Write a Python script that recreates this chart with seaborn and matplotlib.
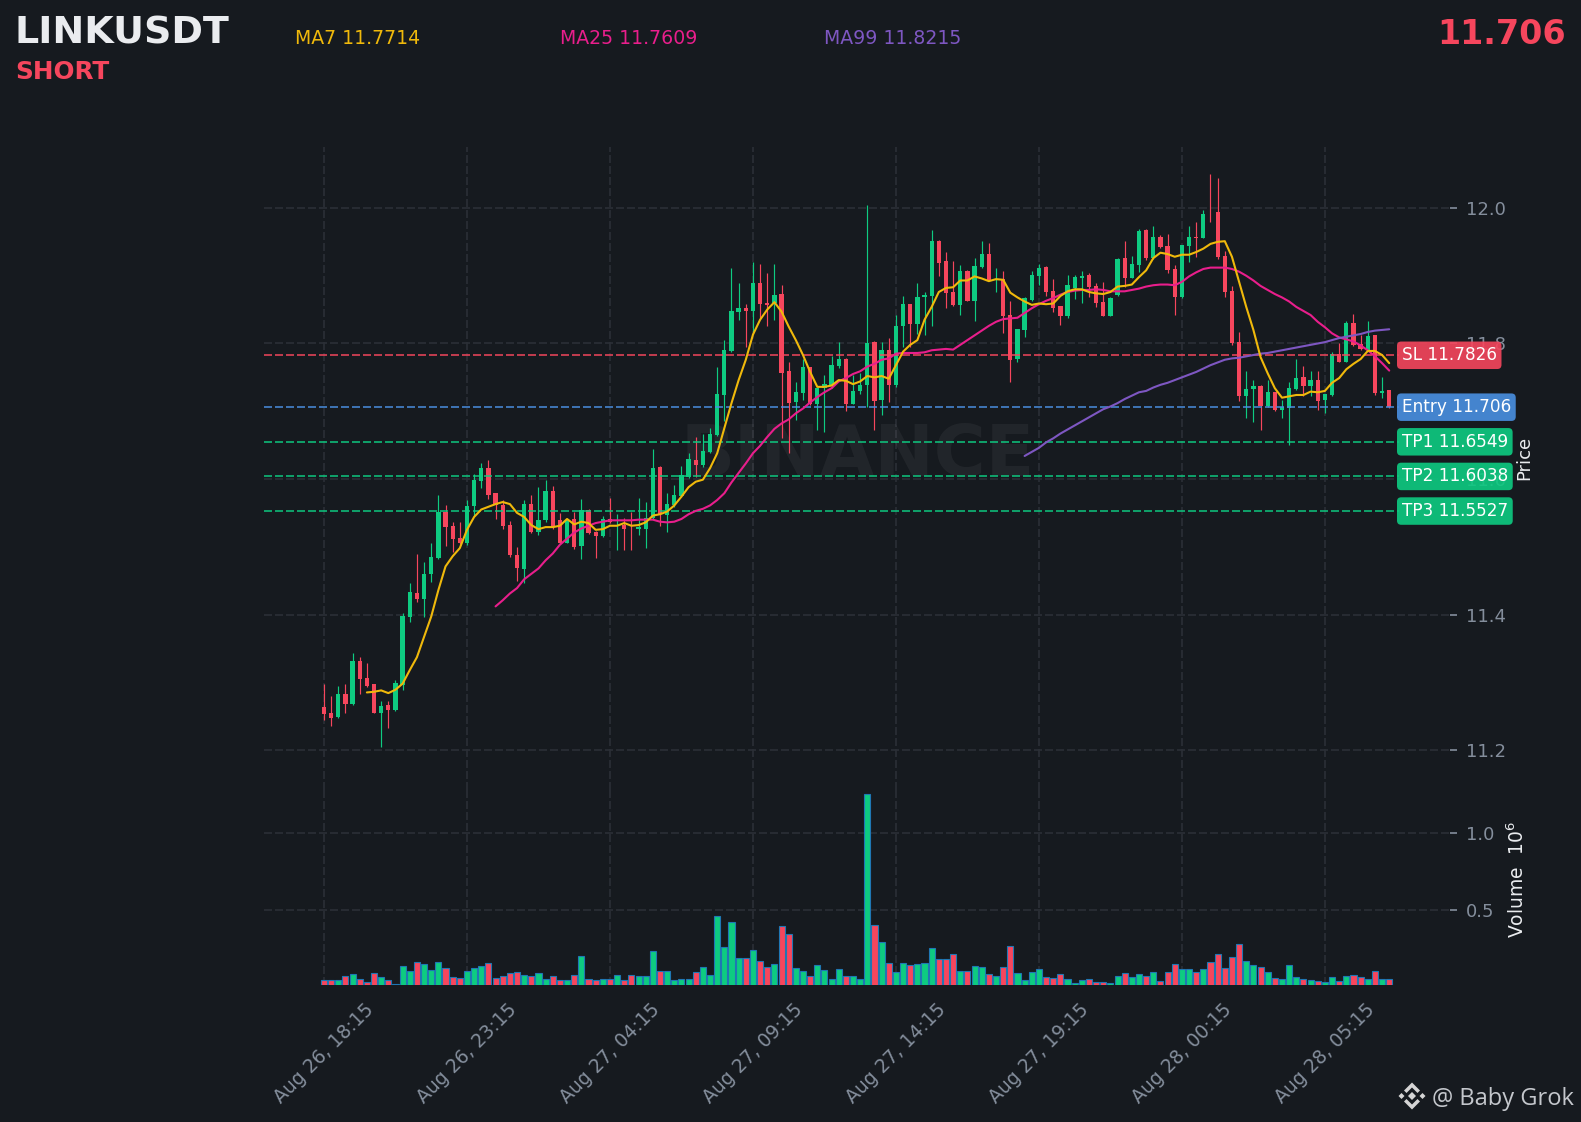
import matplotlib
matplotlib.use("Agg")
import matplotlib.pyplot as plt
from matplotlib.patches import Polygon
import numpy as np
import pandas as pd
import seaborn as sns

# LINKUSDT 15m candles
opens = [11.264, 11.255, 11.249, 11.283, 11.268, 11.331, 11.306, 11.297, 11.255, 11.267,
         11.259, 11.296, 11.397, 11.432, 11.423, 11.460, 11.483, 11.551, 11.531, 11.513,
         11.506, 11.560, 11.597, 11.616, 11.579, 11.562, 11.532, 11.488, 11.467, 11.563,
         11.522, 11.540, 11.582, 11.540, 11.506, 11.541, 11.501, 11.554, 11.522, 11.516,
         11.541, 11.536, 11.532, 11.528, 11.526, 11.526, 11.542, 11.618, 11.547, 11.562,
         11.575, 11.603, 11.628, 11.621, 11.640, 11.665, 11.724, 11.789, 11.847, 11.852,
         11.848, 11.889, 11.860, 11.860, 11.873, 11.759, 11.714, 11.727, 11.765, 11.711,
         11.735, 11.739, 11.767, 11.777, 11.711, 11.730, 11.739, 11.802, 11.717, 11.790,
         11.739, 11.826, 11.858, 11.829, 11.869, 11.870, 11.951, 11.922, 11.876, 11.857,
         11.907, 11.863, 11.913, 11.932, 11.894, 11.895, 11.842, 11.777, 11.820, 11.864,
         11.900, 11.913, 11.877, 11.855, 11.841, 11.882, 11.897, 11.901, 11.885, 11.861,
         11.841, 11.872, 11.926, 11.897, 11.916, 11.968, 11.926, 11.957, 11.944, 11.910,
         11.869, 11.944, 11.957, 11.956, 11.993, 11.994, 11.929, 11.877, 11.802, 11.722,
         11.733, 11.737, 11.708, 11.728, 11.702, 11.705, 11.733, 11.751, 11.737, 11.746,
         11.717, 11.724, 11.784, 11.773, 11.830, 11.799, 11.790, 11.812, 11.727, 11.731]
highs = [11.297, 11.280, 11.295, 11.298, 11.343, 11.338, 11.328, 11.298, 11.273, 11.273,
         11.303, 11.402, 11.446, 11.489, 11.477, 11.506, 11.577, 11.561, 11.536, 11.536,
         11.569, 11.607, 11.624, 11.628, 11.580, 11.569, 11.538, 11.499, 11.569, 11.576,
         11.588, 11.599, 11.589, 11.550, 11.541, 11.551, 11.570, 11.555, 11.523, 11.546,
         11.572, 11.548, 11.542, 11.551, 11.572, 11.566, 11.645, 11.619, 11.579, 11.591,
         11.619, 11.638, 11.662, 11.666, 11.675, 11.765, 11.805, 11.911, 11.889, 11.859,
         11.920, 11.917, 11.904, 11.917, 11.887, 11.772, 11.743, 11.777, 11.766, 11.735,
         11.753, 11.782, 11.802, 11.778, 11.754, 11.757, 12.005, 11.803, 11.802, 11.808,
         11.842, 11.870, 11.859, 11.889, 11.876, 11.967, 11.953, 11.935, 11.922, 11.916,
         11.909, 11.926, 11.952, 11.948, 11.912, 11.907, 11.863, 11.822, 11.868, 11.907,
         11.917, 11.915, 11.895, 11.856, 11.901, 11.901, 11.907, 11.904, 11.889, 11.891,
         11.868, 11.926, 11.951, 11.929, 11.969, 11.969, 11.974, 11.960, 11.962, 11.916,
         11.946, 11.974, 11.979, 11.997, 12.050, 12.044, 11.937, 11.885, 11.817, 11.759,
         11.746, 11.738, 11.746, 11.729, 11.717, 11.743, 11.777, 11.767, 11.759, 11.759,
         11.726, 11.787, 11.801, 11.833, 11.844, 11.812, 11.833, 11.813, 11.750, 11.732]
lows = [11.245, 11.235, 11.248, 11.255, 11.267, 11.283, 11.293, 11.254, 11.205, 11.232,
        11.257, 11.288, 11.389, 11.419, 11.397, 11.448, 11.482, 11.501, 11.493, 11.504,
        11.503, 11.545, 11.587, 11.571, 11.541, 11.526, 11.485, 11.450, 11.446, 11.521,
        11.517, 11.537, 11.526, 11.504, 11.505, 11.496, 11.482, 11.519, 11.484, 11.515,
        11.535, 11.495, 11.495, 11.495, 11.518, 11.498, 11.541, 11.530, 11.522, 11.559,
        11.574, 11.601, 11.603, 11.618, 11.639, 11.664, 11.685, 11.788, 11.834, 11.795,
        11.817, 11.837, 11.826, 11.835, 11.660, 11.638, 11.687, 11.716, 11.709, 11.673,
        11.670, 11.735, 11.764, 11.700, 11.710, 11.725, 11.707, 11.673, 11.694, 11.714,
        11.736, 11.795, 11.795, 11.814, 11.813, 11.826, 11.899, 11.853, 11.855, 11.842,
        11.862, 11.833, 11.912, 11.893, 11.876, 11.815, 11.743, 11.772, 11.810, 11.863,
        11.886, 11.870, 11.846, 11.828, 11.838, 11.866, 11.860, 11.868, 11.854, 11.840,
        11.840, 11.870, 11.884, 11.896, 11.906, 11.923, 11.925, 11.941, 11.904, 11.842,
        11.867, 11.920, 11.927, 11.955, 11.980, 11.925, 11.868, 11.798, 11.715, 11.690,
        11.684, 11.672, 11.707, 11.701, 11.690, 11.650, 11.732, 11.722, 11.722, 11.702,
        11.697, 11.722, 11.772, 11.772, 11.797, 11.791, 11.789, 11.724, 11.720, 11.705]
closes = [11.253, 11.247, 11.283, 11.268, 11.331, 11.305, 11.295, 11.255, 11.265, 11.259,
          11.299, 11.398, 11.433, 11.423, 11.460, 11.485, 11.551, 11.529, 11.511, 11.506,
          11.560, 11.599, 11.616, 11.576, 11.562, 11.531, 11.488, 11.469, 11.563, 11.522,
          11.540, 11.582, 11.529, 11.506, 11.540, 11.500, 11.554, 11.520, 11.516, 11.541,
          11.536, 11.537, 11.526, 11.527, 11.529, 11.542, 11.616, 11.549, 11.563, 11.576,
          11.606, 11.630, 11.621, 11.641, 11.667, 11.726, 11.790, 11.848, 11.852, 11.848,
          11.889, 11.858, 11.857, 11.872, 11.757, 11.712, 11.728, 11.765, 11.711, 11.734,
          11.740, 11.768, 11.777, 11.711, 11.730, 11.739, 11.801, 11.715, 11.790, 11.739,
          11.826, 11.858, 11.829, 11.869, 11.872, 11.951, 11.919, 11.875, 11.857, 11.907,
          11.863, 11.914, 11.932, 11.894, 11.895, 11.841, 11.776, 11.821, 11.867, 11.901,
          11.911, 11.876, 11.852, 11.841, 11.886, 11.898, 11.900, 11.883, 11.860, 11.841,
          11.867, 11.925, 11.897, 11.917, 11.966, 11.926, 11.957, 11.943, 11.909, 11.869,
          11.945, 11.957, 11.956, 11.991, 11.992, 11.928, 11.876, 11.801, 11.722, 11.733,
          11.737, 11.708, 11.728, 11.702, 11.706, 11.734, 11.749, 11.737, 11.746, 11.715,
          11.725, 11.784, 11.773, 11.830, 11.798, 11.792, 11.811, 11.727, 11.730, 11.706]
# volume in units of 10^6
volumes = [.042, .042, .042, .068, .081, .048, .028, .087, .061, .042,
           .012, .133, .100, .159, .146, .107, .159, .120, .061, .055,
           .100, .120, .133, .153, .055, .068, .087, .094, .074, .068,
           .087, .048, .068, .042, .042, .074, .199, .048, .042, .048,
           .048, .074, .042, .074, .068, .068, .232, .100, .100, .042,
           .048, .048, .094, .127, .074, .461, .258, .422, .186, .186,
           .238, .166, .127, .146, .395, .343, .120, .100, .068, .140,
           .107, .048, .114, .068, .068, .048, 1.256, .402, .291, .153,
           .094, .153, .140, .146, .153, .251, .179, .179, .212, .100,
           .100, .133, .127, .081, .068, .127, .264, .087, .042, .094,
           .114, .061, .055, .081, .048, .022, .037, .048, .028, .028,
           .022, .068, .087, .061, .081, .068, .094, .035, .094, .146,
           .114, .114, .094, .114, .159, .212, .120, .192, .277, .166,
           .140, .127, .094, .055, .048, .140, .061, .048, .042, .035,
           .028, .061, .035, .068, .074, .061, .048, .100, .048, .048]

ma7 = [11.285, 11.286, 11.288, 11.284, 11.289, 11.298, 11.318, 11.337, 11.367, 11.397,
       11.436, 11.471, 11.486, 11.498, 11.525, 11.544, 11.555, 11.559, 11.563, 11.566,
       11.563, 11.550, 11.544, 11.532, 11.526, 11.529, 11.529, 11.531, 11.541, 11.533,
       11.537, 11.535, 11.525, 11.526, 11.531, 11.531, 11.535, 11.531, 11.532, 11.536,
       11.546, 11.548, 11.552, 11.561, 11.574, 11.588, 11.596, 11.599, 11.616, 11.638,
       11.675, 11.712, 11.746, 11.776, 11.813, 11.835, 11.850, 11.861, 11.847, 11.825,
       11.805, 11.783, 11.758, 11.736, 11.736, 11.738, 11.746, 11.745, 11.740, 11.744,
       11.752, 11.750, 11.752, 11.748, 11.768, 11.788, 11.798, 11.805, 11.835, 11.854,
       11.876, 11.882, 11.883, 11.893, 11.893, 11.899, 11.896, 11.892, 11.895, 11.894,
       11.875, 11.868, 11.862, 11.857, 11.859, 11.858, 11.859, 11.870, 11.877, 11.880,
       11.880, 11.876, 11.874, 11.873, 11.876, 11.884, 11.885, 11.887, 11.898, 11.908,
       11.926, 11.934, 11.932, 11.928, 11.931, 11.931, 11.935, 11.940, 11.947, 11.950,
       11.951, 11.928, 11.891, 11.854, 11.820, 11.780, 11.756, 11.734, 11.720, 11.722,
       11.724, 11.724, 11.729, 11.728, 11.730, 11.742, 11.749, 11.762, 11.770, 11.777,
       11.789, 11.789, 11.783, 11.771]
ma25 = [11.412, 11.421, 11.431, 11.439, 11.452, 11.460, 11.468, 11.480, 11.490, 11.503,
        11.512, 11.521, 11.527, 11.531, 11.535, 11.537, 11.539, 11.539, 11.539, 11.539,
        11.540, 11.540, 11.540, 11.537, 11.536, 11.537, 11.541, 11.548, 11.553, 11.556,
        11.561, 11.569, 11.579, 11.595, 11.609, 11.623, 11.638, 11.649, 11.662, 11.674,
        11.682, 11.688, 11.697, 11.704, 11.713, 11.721, 11.728, 11.734, 11.744, 11.749,
        11.755, 11.759, 11.766, 11.770, 11.776, 11.778, 11.785, 11.786, 11.786, 11.786,
        11.787, 11.790, 11.791, 11.792, 11.791, 11.798, 11.805, 11.812, 11.819, 11.826,
        11.832, 11.836, 11.837, 11.838, 11.845, 11.852, 11.858, 11.863, 11.867, 11.872,
        11.876, 11.878, 11.879, 11.879, 11.880, 11.879, 11.877, 11.877, 11.877, 11.879,
        11.881, 11.884, 11.886, 11.887, 11.887, 11.886, 11.891, 11.899, 11.905, 11.910,
        11.912, 11.912, 11.912, 11.910, 11.906, 11.900, 11.893, 11.885, 11.879, 11.873,
        11.868, 11.862, 11.854, 11.848, 11.842, 11.832, 11.824, 11.815, 11.809, 11.806,
        11.803, 11.797, 11.790, 11.781, 11.771, 11.760]
ma99 = [11.634, 11.640, 11.646, 11.654, 11.660, 11.667, 11.673, 11.679, 11.685, 11.691,
        11.697, 11.703, 11.707, 11.712, 11.718, 11.723, 11.728, 11.730, 11.735, 11.739,
        11.742, 11.746, 11.750, 11.754, 11.758, 11.763, 11.768, 11.772, 11.776, 11.778,
        11.779, 11.781, 11.783, 11.785, 11.786, 11.788, 11.790, 11.792, 11.794, 11.796,
        11.798, 11.800, 11.802, 11.805, 11.808, 11.810, 11.812, 11.814, 11.817, 11.819,
        11.820, 11.821]

price_ticks = [11.2, 11.4, 11.6, 11.8, 12.0]
volume_ticks = [0.5, 1.0]
date_ticks = [0, 20, 40, 60, 80, 100, 120, 140]
date_labels = ["Aug 26, 18:15", "Aug 26, 23:15", "Aug 27, 04:15", "Aug 27, 09:15",
               "Aug 27, 14:15", "Aug 27, 19:15", "Aug 28, 00:15", "Aug 28, 05:15"]
level_values = [11.7826, 11.706, 11.6549, 11.6038, 11.5527]
level_texts = ["SL 11.7826", "Entry 11.706", "TP1 11.6549", "TP2 11.6038", "TP3 11.5527"]

BG = "#161a1f"
GREEN = "#0ecb81"
RED = "#f6465d"
BLUE = "#4a90e2"
GRID = "#2b2f36"
GRAY = "#848e9c"
level_colors = [RED, BLUE, GREEN, GREEN, GREEN]

sns.set_theme(style="dark", rc={"figure.facecolor": BG, "axes.facecolor": BG, "savefig.facecolor": BG})
plt.rcParams["font.family"] = ["DejaVu Sans"]

W, H = 1581, 1122
fig = plt.figure(figsize=(W / 100, H / 100), dpi=100)


def fx(px):
    return px / W


def fy(px):
    return 1 - px / H


# price pane on top of the volume pane, sharing the grid
left, right, top, mid, bottom = 264, 1450, 147, 790, 985
ax_price = fig.add_axes([fx(left), fy(mid), fx(right - left), (mid - top) / H])
ax_vol = fig.add_axes([fx(left), fy(bottom), fx(right - left), (bottom - mid) / H], sharex=ax_price)

df = pd.DataFrame({"i": range(len(opens)), "open": opens, "high": highs, "low": lows,
                   "close": closes, "volume": volumes})
df["side"] = np.where(df["close"] >= df["open"], "up", "down")
palette = {"up": GREEN, "down": RED}
colors = df["side"].map(palette)

ax_price.text(74.7, 11.633, "BINANCE", color="#ffffff", alpha=0.05, fontsize=51, fontweight="bold",
              ha="center", va="center", zorder=1)

ax_price.vlines(df["i"], df["low"], df["high"], colors=colors, linewidth=0.85, zorder=3)
ax_price.bar(df["i"], (df["close"] - df["open"]).abs().clip(lower=0.0012),
             bottom=df[["open", "close"]].min(axis=1), width=0.6, color=colors, linewidth=0, zorder=3)

dash = (0, (4.8, 1.8))
for value, col in zip(level_values, level_colors):
    ax_price.hlines(value, -8.39, 150.3, colors=col, linewidth=1.2, linestyles=[dash], alpha=0.9, zorder=4)

sns.lineplot(x=range(6, 150), y=ma7, color="#f0b90b", linewidth=1.5, ax=ax_price, zorder=6)
sns.lineplot(x=range(24, 150), y=ma25, color="#e91e8c", linewidth=1.5, ax=ax_price, zorder=5)
sns.lineplot(x=range(98, 150), y=ma99, color="#7e57c2", linewidth=1.5, ax=ax_price, zorder=5)

for value, text, col in zip(level_values, level_texts, level_colors):
    ax_price.text(150.75, value, text, color="white", fontsize=12.2, ha="left", va="center", zorder=8,
                  bbox=dict(boxstyle="round,pad=0.28,rounding_size=0.25", facecolor=col, edgecolor="none", alpha=0.9))

sns.barplot(data=df, x="i", y="volume", hue="side", palette=palette, native_scale=True, dodge=False,
            width=0.85, saturation=1, edgecolor="#1f77b4", linewidth=0.8, legend=False, ax=ax_vol, zorder=3)

for ax in (ax_price, ax_vol):
    ax.set_xlabel("")
    ax.set_ylabel("")
    ax.set_facecolor("none")
    for spine in ax.spines.values():
        spine.set_visible(False)
    ax.grid(True, axis="both", color=GRID, linewidth=1.2, linestyle=(0, (4.8, 1.8)), zorder=0)
    ax.set_axisbelow(True)
    ax.yaxis.tick_right()
    ax.tick_params(axis="y", length=5, width=1.2, color=GRAY, pad=6.5, labelsize=13, labelcolor=GRAY)

ax_price.set_xlim(-8.39, 157.5)
ax_price.set_ylim(11.1410, 12.0900)
ax_price.set_yticks(price_ticks)
ax_price.set_yticklabels([f"{p:.1f}" for p in price_ticks])
ax_price.tick_params(axis="x", length=0, labelbottom=False)
ax_price.set_xticks(date_ticks)

ax_vol.set_ylim(0.0066, 1.284)
ax_vol.set_yticks(volume_ticks)
ax_vol.set_yticklabels(["0.5", "1.0"])
ax_vol.set_xticks(date_ticks)
ax_vol.set_xticklabels(date_labels, rotation=45, ha="center")
ax_vol.tick_params(axis="x", length=4.5, width=1.2, color=GRAY, labelsize=13.5, labelcolor=GRAY, pad=6)

# header
fig.text(fx(15), fy(33), "LINKUSDT", color="#eaecef", fontsize=27.4, fontweight="bold", va="center")
fig.text(fx(15), fy(72), "SHORT", color=RED, fontsize=17.8, fontweight="bold", va="center")
fig.text(fx(295), fy(38), "MA7 11.7714", color="#f0b90b", fontsize=13.6, va="center")
fig.text(fx(560), fy(38), "MA25 11.7609", color="#e91e8c", fontsize=13.6, va="center")
fig.text(fx(824), fy(38), "MA99 11.8215", color="#7e57c2", fontsize=13.6, va="center")
fig.text(fx(1566), fy(34), "11.706", color=RED, fontsize=24, fontweight="bold", ha="right", va="center")

# axis titles
fig.text(fx(1524), fy(458), "Price", color="#eaecef", fontsize=13, rotation=90, ha="center", va="center")
fig.text(fx(1517), fy(938), "Volume  $10^{6}$", color="#eaecef", fontsize=13.5, rotation=90, ha="center", va="bottom")

# footer mark
fig.text(fx(1432), fy(1099), "@ Baby Grok", color="#c4c7cc", fontsize=17, family="Open Sans", ha="left", va="center")
logo_x, logo_y = 1412, 1096
logo_parts = [
    [(0, 4), (4, 0), (0, -4), (-4, 0)],
    [(-10.5, 3), (-7.5, 0), (-10.5, -3), (-13.5, 0)],
    [(10.5, 3), (13.5, 0), (10.5, -3), (7.5, 0)],
    [(0, 13.5), (8, 5.5), (5.5, 3), (0, 8.5), (-5.5, 3), (-8, 5.5)],
    [(0, -13.5), (8, -5.5), (5.5, -3), (0, -8.5), (-5.5, -3), (-8, -5.5)],
]
for part in logo_parts:
    pts = [(fx(logo_x + a), fy(logo_y - b)) for a, b in part]
    fig.add_artist(Polygon(pts, closed=True, transform=fig.transFigure, facecolor="#d5d5d5", edgecolor="none"))

fig.savefig("out.png", dpi=100)
plt.close(fig)
